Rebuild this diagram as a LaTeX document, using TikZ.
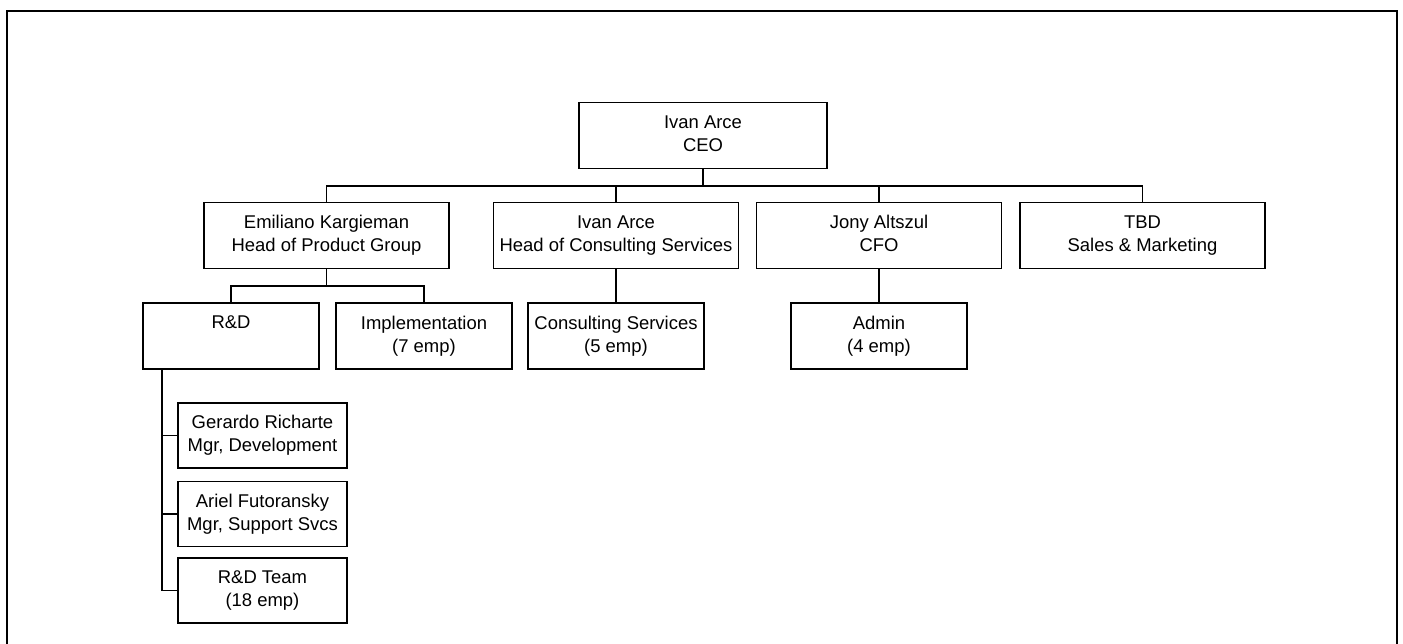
\documentclass[tikz,border=0pt]{standalone}
\usepackage{fontspec}
\setmainfont{Liberation Sans}
\newcommand{\toprule}{\rule{0pt}{11pt}}
\newcommand{\botrule}{\rule[-2.3pt]{0pt}{2.3pt}}
\tikzstyle{chief}=[draw,line width=1pt,minimum width=4.9cm,minimum height=1.32cm,align=center,inner sep=0pt,font=\fontsize{10.5}{13.1}\selectfont,execute at begin node=\toprule,execute at end node=\botrule]
\tikzstyle{unit}=[draw,line width=1pt,minimum width=3.52cm,minimum height=1.32cm,align=center,inner sep=0pt,font=\fontsize{10.5}{13.1}\selectfont,execute at begin node=\toprule,execute at end node=\botrule]
\tikzstyle{staff}=[draw,line width=1pt,minimum width=3.38cm,minimum height=1.3cm,align=center,inner sep=0pt,font=\fontsize{10.5}{13.1}\selectfont,execute at begin node=\toprule,execute at end node=\botrule]
\tikzstyle{link}=[line width=1pt]

\begin{document}
\begin{tikzpicture}
\useasboundingbox (0,0) rectangle (28.06,12.88);
\draw[line width=1.2pt] (0.14,0) -- (0.14,12.66) -- (27.94,12.66) -- (27.94,0);

\node[chief,minimum width=4.96cm] (ceo) at (14.06,10.17) {Ivan Arce\\CEO};

\node[chief] (prod) at (6.53,8.17) {Emiliano Kargieman\\Head of Product Group};
\node[chief] (conshead) at (12.32,8.17) {Ivan Arce\\Head of Consulting Services};
\node[chief] (cfo) at (17.58,8.17) {Jony Altszul\\CFO};
\node[chief] (sales) at (22.85,8.17) {TBD\\Sales \& Marketing};

\node[unit] (rnd) at (4.62,6.16) {R\&D\\\mbox{}};
\node[unit] (impl) at (8.48,6.16) {Implementation\\(7 emp)};
\node[unit] (conssvc) at (12.32,6.16) {Consulting Services\\(5 emp)};
\node[unit] (admin) at (17.58,6.16) {Admin\\(4 emp)};

\node[staff] (gerardo) at (5.25,4.17) {Gerardo Richarte\\Mgr, Development};
\node[staff] (ariel) at (5.25,2.60) {Ariel Futoransky\\Mgr, Support Svcs};
\node[staff] (rdteam) at (5.25,1.07) {R\&D Team\\(18 emp)};

\draw[link] (ceo.south) -- ++(0,-0.34) -| (prod.north);
\draw[link] (ceo.south) -- ++(0,-0.34) -| (conshead.north);
\draw[link] (ceo.south) -- ++(0,-0.34) -| (cfo.north);
\draw[link] (ceo.south) -- ++(0,-0.34) -| (sales.north);

\draw[link] (prod.south) -- ++(0,-0.34) -| (rnd.north);
\draw[link] (prod.south) -- ++(0,-0.34) -| (impl.north);
\draw[link] (conshead) -- (conssvc);
\draw[link] (cfo) -- (admin);

\draw[link] ([xshift=0.4cm]rnd.south west) |- (gerardo.west);
\draw[link] ([xshift=0.4cm]rnd.south west) |- (ariel.west);
\draw[link] ([xshift=0.4cm]rnd.south west) |- (rdteam.west);

\end{tikzpicture}
\end{document}
